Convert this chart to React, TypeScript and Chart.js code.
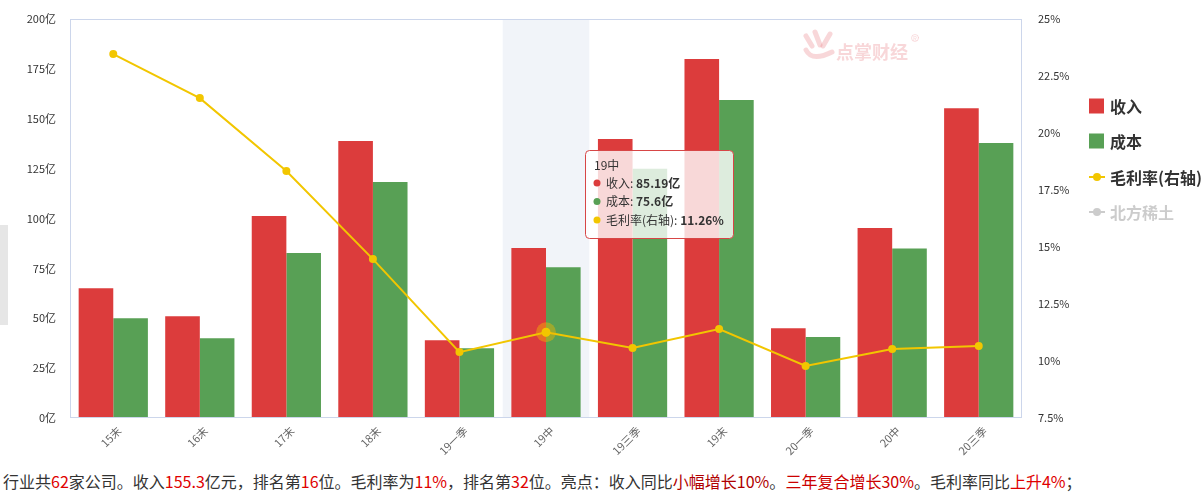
import React, { useEffect, useRef } from "react";
import { Chart, registerables } from "chart.js";

Chart.register(...registerables);

const categories = ["15末", "16末", "17末", "18末", "19一季", "19中", "19三季", "19末", "20一季", "20中", "20三季"];
const revenue = [65, 51, 101.3, 138.8, 39, 85.19, 139.8, 180, 45, 95.2, 155.3];
const cost = [50, 40, 82.7, 118.3, 35, 75.6, 125, 159.4, 40.6, 85, 137.8];
const grossMargin = [23.46, 21.53, 18.33, 14.47, 10.39, 11.26, 10.57, 11.4, 9.78, 10.53, 10.66];
const seriesNames = ["收入", "成本", "毛利率(右轴)"];
const hiddenSeriesName = "北方稀土";
const activeIndex = 5;

const RED = "rgb(220,60,60)";
const GREEN = "rgb(88,160,85)";
const YELLOW = "rgb(242,198,0)";
const FONT = "'Noto Sans CJK SC', 'Noto Sans', sans-serif";

const summaryParts: [string, string][] = [
  ["行业共", "#333"], ["62", "#e00000"], ["家公司。收入", "#333"], ["155.3", "#e00000"],
  ["亿元，排名第", "#333"], ["16", "#e00000"], ["位。毛利率为", "#333"], ["11%", "#e00000"],
  ["，排名第", "#333"], ["32", "#e00000"], ["位。亮点：收入同比", "#333"], ["小幅增长10%", "#b00000"],
  ["。", "#333"], ["三年复合增长30%", "#cc0000"], ["。毛利率同比", "#333"], ["上升4%", "#e00000"], ["；", "#333"],
];

const overlayPlugin = {
  id: "overlay",
  beforeDatasetsDraw(chart: any) {
    const { ctx, chartArea: a, scales } = chart;
    const x = scales.x;
    const w = x.getPixelForValue(1) - x.getPixelForValue(0);
    const cx = x.getPixelForValue(activeIndex);
    ctx.save();
    ctx.fillStyle = "rgba(204,214,235,0.28)";
    ctx.fillRect(cx - w / 2, a.top, w, a.bottom - a.top);

    // watermark
    ctx.strokeStyle = "rgba(230,110,120,0.28)";
    ctx.fillStyle = "rgba(230,110,120,0.28)";
    ctx.lineCap = "round";
    ctx.lineWidth = 5;
    ctx.beginPath(); ctx.moveTo(806, 36); ctx.lineTo(812, 46); ctx.stroke();
    ctx.beginPath(); ctx.moveTo(815, 32); ctx.lineTo(820, 45); ctx.stroke();
    ctx.beginPath(); ctx.moveTo(830, 34); ctx.lineTo(823, 46); ctx.stroke();
    ctx.beginPath(); ctx.moveTo(806, 50); ctx.quadraticCurveTo(812, 62, 832, 52); ctx.stroke();
    ctx.font = `bold 18px ${FONT}`;
    ctx.textBaseline = "middle";
    ctx.textAlign = "left";
    ctx.fillText("点掌财经", 836, 52);
    ctx.lineWidth = 0.8;
    ctx.beginPath(); ctx.arc(915, 38, 3.5, 0, Math.PI * 2); ctx.stroke();
    ctx.font = `6px ${FONT}`;
    ctx.textAlign = "center";
    ctx.fillText("R", 915, 38.5);
    ctx.restore();
  },
  afterDatasetsDraw(chart: any) {
    const { ctx, chartArea: a, scales } = chart;
    const px = scales.x.getPixelForValue(activeIndex);
    const py = scales.y1.getPixelForValue(grossMargin[activeIndex]);
    ctx.save();
    ctx.fillStyle = "rgba(242,180,0,0.45)";
    ctx.beginPath(); ctx.arc(px, py, 10, 0, Math.PI * 2); ctx.fill();
    ctx.fillStyle = YELLOW;
    ctx.beginPath(); ctx.arc(px, py, 4.5, 0, Math.PI * 2); ctx.fill();
    // plot border
    ctx.strokeStyle = "#ccd6eb";
    ctx.lineWidth = 1;
    ctx.strokeRect(Math.round(a.left) + 0.5, Math.round(a.top) + 0.5, Math.round(a.right - a.left) - 1, Math.round(a.bottom - a.top) - 1);
    ctx.restore();
  },
  afterDraw(chart: any) {
    const { ctx } = chart;
    ctx.save();
    // legend
    const lx = 1089;
    const items = [
      { text: seriesNames[0], color: RED, type: "box", text2: "#333" },
      { text: seriesNames[1], color: GREEN, type: "box", text2: "#333" },
      { text: seriesNames[2], color: YELLOW, type: "line", text2: "#333" },
      { text: hiddenSeriesName, color: "#ccc", type: "line", text2: "#ccc" },
    ];
    const ys = [106, 141, 177, 212];
    ctx.font = `bold 16px ${FONT}`;
    ctx.textBaseline = "middle";
    ctx.textAlign = "left";
    items.forEach((it, i) => {
      const y = ys[i];
      ctx.fillStyle = it.color;
      ctx.strokeStyle = it.color;
      if (it.type === "box") {
        ctx.fillRect(lx, y - 7.5, 15, 15);
      } else {
        ctx.lineWidth = 2;
        ctx.beginPath(); ctx.moveTo(lx, y); ctx.lineTo(lx + 16, y); ctx.stroke();
        ctx.beginPath(); ctx.arc(lx + 8, y, 4, 0, Math.PI * 2); ctx.fill();
      }
      ctx.fillStyle = it.text2;
      ctx.fillText(it.text, lx + 21, y + 1);
    });

    // tooltip
    const tx = 585.5, ty = 150.5, tw = 148, th = 88, r = 4;
    ctx.fillStyle = "rgba(255,255,255,0.8)";
    ctx.strokeStyle = "rgb(215,70,70)";
    ctx.lineWidth = 1;
    ctx.beginPath();
    ctx.moveTo(tx + r, ty);
    ctx.lineTo(tx + tw - r, ty); ctx.arcTo(tx + tw, ty, tx + tw, ty + r, r);
    ctx.lineTo(tx + tw, ty + th - r); ctx.arcTo(tx + tw, ty + th, tx + tw - r, ty + th, r);
    ctx.lineTo(tx + r, ty + th); ctx.arcTo(tx, ty + th, tx, ty + th - r, r);
    ctx.lineTo(tx, ty + r); ctx.arcTo(tx, ty, tx + r, ty, r);
    ctx.closePath();
    ctx.fill(); ctx.stroke();

    ctx.font = `12px ${FONT}`;
    ctx.fillStyle = "#333";
    ctx.fillText(categories[activeIndex], 594, 165);
    const rows = [
      { c: RED, label: seriesNames[0] + ": ", val: revenue[activeIndex] + "亿" },
      { c: GREEN, label: seriesNames[1] + ": ", val: cost[activeIndex] + "亿" },
      { c: YELLOW, label: seriesNames[2] + ": ", val: grossMargin[activeIndex] + "%" },
    ];
    rows.forEach((rw, i) => {
      const y = 183 + i * 18.5;
      ctx.fillStyle = rw.c;
      ctx.beginPath(); ctx.arc(597, y, 3.5, 0, Math.PI * 2); ctx.fill();
      ctx.font = `12px ${FONT}`;
      ctx.fillStyle = "#333";
      ctx.fillText(rw.label, 606, y);
      const w = ctx.measureText(rw.label).width;
      ctx.font = `bold 12px ${FONT}`;
      ctx.fillText(rw.val, 606 + w, y);
    });
    ctx.restore();
  },
};

export default function App() {
  const ref = useRef<HTMLCanvasElement>(null);
  useEffect(() => {
    if (!ref.current) return;
    Chart.defaults.font.family = FONT;
    const chart = new Chart(ref.current, {
      type: "bar",
      data: {
        labels: categories,
        datasets: [
          {
            type: "line",
            label: seriesNames[2],
            data: grossMargin,
            yAxisID: "y1",
            borderColor: YELLOW,
            backgroundColor: YELLOW,
            borderWidth: 2,
            pointRadius: 4,
            pointBorderWidth: 0,
            pointBackgroundColor: YELLOW,
            tension: 0,
            order: 0,
          } as any,
          {
            label: seriesNames[0],
            data: revenue,
            backgroundColor: RED,
            yAxisID: "y",
            categoryPercentage: 0.8,
            barPercentage: 1,
            order: 1,
          },
          {
            label: seriesNames[1],
            data: cost,
            backgroundColor: GREEN,
            yAxisID: "y",
            categoryPercentage: 0.8,
            barPercentage: 1,
            order: 1,
          },
        ],
      },
      options: {
        animation: false,
        responsive: true,
        maintainAspectRatio: false,
        layout: { padding: { top: 19, right: 0, bottom: 0, left: 0 } },
        plugins: { legend: { display: false }, tooltip: { enabled: false } },
        events: [],
        scales: {
          x: {
            grid: { display: false, drawTicks: false },
            border: { display: false },
            ticks: { color: "#666", font: { size: 11 }, minRotation: 45, maxRotation: 45, padding: 6, labelOffset: 6 },
            afterFit: (s: any) => { s.height = 42; },
          },
          y: {
            position: "left",
            min: 0,
            max: 200,
            grid: { display: false, drawTicks: false },
            border: { display: false },
            ticks: { stepSize: 25, color: "#333", font: { size: 11 }, padding: 14, callback: (v: any) => v + "亿" },
            afterFit: (s: any) => { s.width = 70; s.paddingTop = 0; s.paddingBottom = 0; },
          },
          y1: {
            position: "right",
            min: 7.5,
            max: 25,
            grid: { display: false, drawTicks: false },
            border: { display: false },
            ticks: { stepSize: 2.5, color: "#333", font: { size: 11 }, padding: 16, callback: (v: any) => v + "%" },
            afterFit: (s: any) => { s.width = 182; s.paddingTop = 0; s.paddingBottom = 0; },
          },
        },
      },
      plugins: [overlayPlugin],
    });
    return () => chart.destroy();
  }, []);

  return (
    <div style={{ position: "fixed", left: 0, top: 0, width: 1204, height: 504, background: "#fff", fontFamily: FONT }}>
      <div style={{ position: "absolute", left: 0, top: 225, width: 8, height: 100, background: "#e6e6e6" }} />
      <div style={{ position: "absolute", left: 0, top: 0, width: 1204, height: 460 }}>
        <canvas ref={ref} />
      </div>
      <div style={{ position: "absolute", left: 3, top: 470, fontSize: 16, lineHeight: "23px", whiteSpace: "nowrap", color: "#333" }}>
        {summaryParts.map(([t, c], i) => (
          <span key={i} style={{ color: c }}>{t}</span>
        ))}
      </div>
    </div>
  );
}
